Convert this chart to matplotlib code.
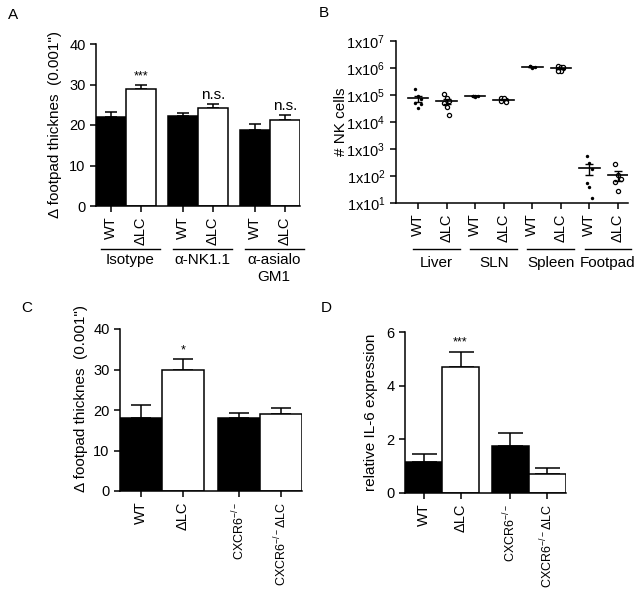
import matplotlib
matplotlib.use('Agg')
import numpy as np
from matplotlib import pyplot as plt

plt.rcParams['font.family'] = ['Liberation Sans', 'DejaVu Sans']
plt.rcParams['mathtext.fontset'] = 'custom'
plt.rcParams['mathtext.rm'] = 'Liberation Sans'
plt.rcParams['mathtext.it'] = 'Liberation Sans'
plt.rcParams['font.size'] = 11
plt.rcParams['xtick.labelsize'] = 10.5
plt.rcParams['ytick.labelsize'] = 10.5
plt.rcParams['axes.linewidth'] = 1.1
plt.rcParams['xtick.major.width'] = 1.1
plt.rcParams['ytick.major.width'] = 1.1
plt.rcParams['xtick.major.size'] = 4
plt.rcParams['ytick.major.size'] = 4

# panel A
a_ticks = ['WT', 'ΔLC'] * 3
a_groups = ['Isotype', 'α-NK1.1', 'α-asialo\nGM1']
a_means = [22.0, 29.0, 22.2, 24.2, 18.8, 21.2]
a_err = [1.1, 0.9, 0.7, 1.0, 1.5, 1.2]
a_sig = ['***', 'n.s.', 'n.s.']

# panel B (NK cell counts, individual mice)
b_ticks = ['WT', 'ΔLC'] * 4
b_groups = ['Liver', 'SLN', 'Spleen', 'Footpad']
liver_wt = [1.6e5, 9e4, 7e4, 5e4, 3.2e4, 4.8e4]
liver_lc = [1.1e5, 8e4, 6e4, 5e4, 3.5e4, 1.8e4]
sln_wt = [9.5e4, 9e4, 8.8e4, 9.2e4, 8.5e4]
sln_lc = [8e4, 7.2e4, 6.5e4, 6e4, 7.5e4, 5.6e4]
spleen_wt = [1.15e6, 1.1e6, 1.05e6, 1.2e6, 1.0e6]
spleen_lc = [1.2e6, 1.1e6, 1.0e6, 9e5, 8e5, 1.05e6, 7.5e5]
footpad_wt = [550, 300, 180, 55, 40, 15]
footpad_lc = [270, 110, 80, 60, 28]
b_sets = [liver_wt, liver_lc, sln_wt, sln_lc, spleen_wt, spleen_lc, footpad_wt, footpad_lc]

# panel C
c_ticks = ['WT', 'ΔLC', 'CXCR6$^{-/-}$', 'CXCR6$^{-/-}$ΔLC']
c_means = [18.0, 30.0, 18.0, 19.0]
c_err = [3.2, 2.5, 1.3, 1.6]

# panel D
d_ticks = ['WT', 'ΔLC', 'CXCR6$^{-/-}$', 'CXCR6$^{-/-}$ΔLC']
d_means = [1.15, 4.7, 1.75, 0.7]
d_err = [0.3, 0.55, 0.47, 0.23]
d_sig = '***'

W, H = 639, 598
fig = plt.figure(figsize=(W / 100, H / 100), dpi=100)


def px_axes(left, top, right, bottom):
    return fig.add_axes([left / W, 1 - bottom / H, (right - left) / W, (bottom - top) / H])


def style(ax):
    ax.spines['top'].set_visible(False)
    ax.spines['right'].set_visible(False)
    ax.tick_params(axis='x', labelrotation=90)


def bars(ax, x, means, err, capsize):
    colors = ['black', 'white'] * (len(means) // 2)
    ax.bar(x, means, width=1.0, color=colors, edgecolor='black', linewidth=1.1, zorder=2)
    ax.errorbar(x, means, yerr=[np.zeros(len(err)), err], fmt='none', ecolor='black',
                elinewidth=1.1, capsize=capsize, capthick=1.1, zorder=1)


def group_lines(ax, starts, labels, y_line, y_text, lo, hi):
    tr = ax.get_xaxis_transform()
    for s, lab in zip(starts, labels):
        x0, x1 = s + lo, s + 1 + hi
        ax.plot([x0, x1], [y_line, y_line], color='black', lw=1.0,
                transform=tr, clip_on=False)
        ax.text((x0 + x1) / 2, y_text, lab, transform=tr, ha='center', va='top',
                fontsize=11, linespacing=1.3)


def small_cxcr(ax):
    for t in ax.get_xticklabels():
        if t.get_text().startswith('CXCR6'):
            t.set_fontsize(9)


# ---- A
ax = px_axes(96, 44, 300, 206)
style(ax)
xa = np.array([0, 1, 2.4, 3.4, 4.8, 5.8])
bars(ax, xa, a_means, a_err, 4)
ax.set_xlim(-0.5, 6.3)
ax.set_ylim(0, 40)
ax.set_yticks([0, 10, 20, 30, 40])
ax.set_xticks(xa)
ax.set_xticklabels(a_ticks)
ax.set_ylabel('Δ footpad thicknes  (0.001")', labelpad=5)
for i, s in enumerate(a_sig):
    j = 2 * i + 1
    ax.text(xa[j], a_means[j] + a_err[j] + 0.6, s, ha='center', va='bottom',
            fontsize=9 if s == '***' else 11)
group_lines(ax, xa[::2], a_groups, -0.265, -0.29, lo=-0.35, hi=0.63)

# ---- B
ax = px_axes(396, 41, 628, 203)
style(ax)
xb = np.arange(8)
for i, vals in enumerate(b_sets):
    vals = np.array(vals)
    n = len(vals)
    off = (np.arange(n) % 3 - 1) * 0.09
    if i % 2 == 0:
        ax.scatter(xb[i] + off, vals, s=6, color='black', linewidth=0, zorder=3)
    else:
        ax.scatter(xb[i] + off, vals, s=9, facecolor='white', edgecolor='black',
                   linewidth=0.9, zorder=3)
    m = vals.mean()
    sem = vals.std(ddof=1) / np.sqrt(n)
    ax.plot([xb[i] - 0.36, xb[i] + 0.36], [m, m], color='black', lw=1.2, zorder=4)
    ax.errorbar(xb[i], m, yerr=sem, fmt='none', ecolor='black', elinewidth=1.0,
                capsize=3, capthick=1.0, zorder=4)
ax.set_yscale('log')
ax.set_ylim(10, 1e7)
ax.set_xlim(-0.77, 7.35)
ax.set_yticks([10 ** k for k in range(1, 8)])
ax.set_yticklabels(['1x10$^{%d}$' % k for k in range(1, 8)])
ax.yaxis.set_minor_locator(matplotlib.ticker.NullLocator())
ax.set_xticks(xb)
ax.set_xticklabels(b_ticks)
ax.set_ylabel('# NK cells', labelpad=-1)
group_lines(ax, xb[::2], b_groups, -0.285, -0.325, lo=-0.17, hi=0.47)

# ---- C
ax = px_axes(120, 329, 302, 491)
style(ax)
xc = np.array([0, 1, 2.35, 3.35])
bars(ax, xc, c_means, c_err, 7)
ax.set_xlim(-0.5, 3.85)
ax.set_ylim(0, 40)
ax.set_yticks([0, 10, 20, 30, 40])
ax.set_xticks(xc)
ax.set_xticklabels(c_ticks)
small_cxcr(ax)
ax.set_ylabel('Δ footpad thicknes  (0.001")')
ax.yaxis.set_label_coords(-0.175, 0.57)
ax.text(xc[1], c_means[1] + c_err[1] + 0.8, '*', ha='center', va='bottom', fontsize=9)

# ---- D
ax = px_axes(405, 332, 566, 493)
style(ax)
xd = np.array([0, 1, 2.35, 3.35])
bars(ax, xd, d_means, d_err, 9)
ax.set_xlim(-0.5, 3.85)
ax.set_ylim(0, 6)
ax.set_yticks([0, 2, 4, 6])
ax.set_xticks(xd)
ax.set_xticklabels(d_ticks)
small_cxcr(ax)
ax.set_ylabel('relative IL-6 expression', labelpad=6)
ax.text(xd[1], d_means[1] + d_err[1] + 0.12, d_sig, ha='center', va='bottom', fontsize=9)

# panel letters
for lab, x, y in [('A', 8, 15), ('B', 319, 13), ('C', 21, 308), ('D', 321, 308)]:
    fig.text(x / W, 1 - y / H, lab, ha='left', va='center', fontsize=11)

fig.savefig('out.png', dpi=100)
